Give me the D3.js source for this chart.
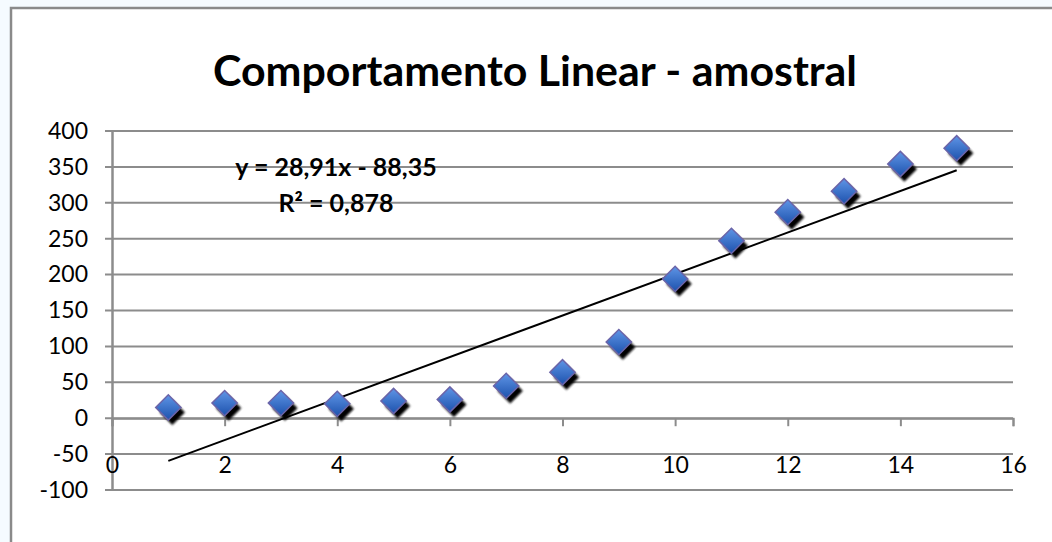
<!DOCTYPE html>
<html>
<head>
<meta charset="utf-8">
<script src="https://cdn.jsdelivr.net/npm/d3@7"></script>
<style>
  body { margin: 0; background: #f5fbff; }
  text { font-family: Lato, "Open Sans", sans-serif; fill: #000; }
</style>
</head>
<body>
<div class="chart"></div>
<script>
// dados amostrais
var xValues = [1, 2, 3, 4, 5, 6, 7, 8, 9, 10, 11, 12, 13, 14, 15];
var yValues = [15, 21, 21, 20, 24, 26, 45, 64, 106, 194, 247, 287, 316, 354, 376];
var yTicks = [-100, -50, 0, 50, 100, 150, 200, 250, 300, 350, 400];
var xTicks = [0, 2, 4, 6, 8, 10, 12, 14, 16];
var trendSlope = 28.91, trendIntercept = -88.35;
var trendLabels = ['y = 28,91x - 88,35', 'R\u00b2 = 0,878'];
var title = 'Comportamento Linear - amostral';

var svg_width = 1052,
    svg_height = 542,
    svg = d3.select('.chart').append('svg').attr('width', svg_width).attr('height', svg_height),
    margin = {top: 131, right: 39, bottom: 52, left: 112},
    width = svg_width - margin.left - margin.right,
    height = svg_height - margin.top - margin.bottom;

// fundo e moldura
svg.append('rect').attr('x', 11).attr('y', 8).attr('width', svg_width).attr('height', svg_height)
  .attr('fill', '#fff').attr('stroke', '#8a8a8a').attr('stroke-width', 2.5);

var defs = svg.append('defs');
var grad = defs.append('linearGradient').attr('id', 'blue')
  .attr('x1', '0').attr('y1', '0').attr('x2', '1').attr('y2', '1');
grad.append('stop').attr('offset', '0%').attr('stop-color', '#5f95e6');
grad.append('stop').attr('offset', '100%').attr('stop-color', '#1d52ad');
defs.append('filter').attr('id', 'blur').append('feGaussianBlur').attr('stdDeviation', 1);

svg.append('text').attr('x', 535).attr('y', 86).attr('text-anchor', 'middle')
  .attr('textLength', 644).attr('lengthAdjust', 'spacingAndGlyphs')
  .style('font-size', '42px').style('font-weight', 'bold').text(title);

var g = svg.append('g').attr('transform', 'translate(' + margin.left + ',' + margin.top + ')');

var x = d3.scaleLinear().domain([0, 16]).range([0, width]);
var y = d3.scaleLinear().domain([-100, 400]).range([height, 0]);

// linhas de grade
g.append('g').attr('class', 'grid')
  .selectAll('line').data(yTicks).enter().append('line')
  .attr('x1', -7).attr('x2', width)
  .attr('y1', function(d) { return y(d); })
  .attr('y2', function(d) { return y(d); })
  .attr('stroke', '#8c8c8c').attr('stroke-width', 2);

var plain = function(d) { return String(d); };

var yAxis = g.append('g').call(d3.axisLeft(y).tickValues(yTicks).tickFormat(plain).tickSize(0).tickPadding(24));
yAxis.select('.domain').attr('stroke', '#8c8c8c').attr('stroke-width', 2.5);
yAxis.selectAll('text').style('font-size', '23px').style('font-family', 'Lato, sans-serif').attr('fill', '#000');

var xAxis = g.append('g').attr('transform', 'translate(0,' + y(0) + ')')
  .call(d3.axisBottom(x).tickValues(xTicks).tickFormat(plain).tickSize(8).tickSizeOuter(8).tickPadding(30));
xAxis.select('.domain').attr('stroke', '#8c8c8c').attr('stroke-width', 2);
xAxis.selectAll('.tick line').attr('stroke', '#8c8c8c').attr('stroke-width', 2);
xAxis.selectAll('text').style('font-size', '23px').style('font-family', 'Lato, sans-serif').attr('fill', '#000');

// linha de tendencia
var x0 = d3.min(xValues), x1 = d3.max(xValues);
g.append('line')
  .attr('x1', x(x0)).attr('y1', y(trendSlope * x0 + trendIntercept))
  .attr('x2', x(x1)).attr('y2', y(trendSlope * x1 + trendIntercept))
  .attr('stroke', '#000').attr('stroke-width', 2);

var diamond = d3.symbol().type(d3.symbolSquare).size(320);
var points = xValues.map(function(v, i) { return {x: v, y: yValues[i]}; });

g.selectAll('.shadow').data(points).enter().append('path')
  .attr('class', 'shadow')
  .attr('d', diamond)
  .attr('transform', function(d) { return 'translate(' + (x(d.x) + 4) + ',' + (y(d.y) + 5) + ') rotate(45)'; })
  .attr('fill', '#000').attr('filter', 'url(#blur)');

g.selectAll('.point').data(points).enter().append('path')
  .attr('class', 'point')
  .attr('d', diamond)
  .attr('transform', function(d) { return 'translate(' + x(d.x) + ',' + y(d.y) + ') rotate(45)'; })
  .attr('fill', 'url(#blue)').attr('stroke', '#6b64a8').attr('stroke-width', 1.5);

svg.selectAll('.eq').data(trendLabels).enter().append('text')
  .attr('class', 'eq')
  .attr('x', 336)
  .attr('y', function(d, i) { return 176 + i * 36; })
  .attr('text-anchor', 'middle')
  .style('font-size', '25px').style('font-weight', 'bold')
  .text(function(d) { return d; });
</script>
</body>
</html>
